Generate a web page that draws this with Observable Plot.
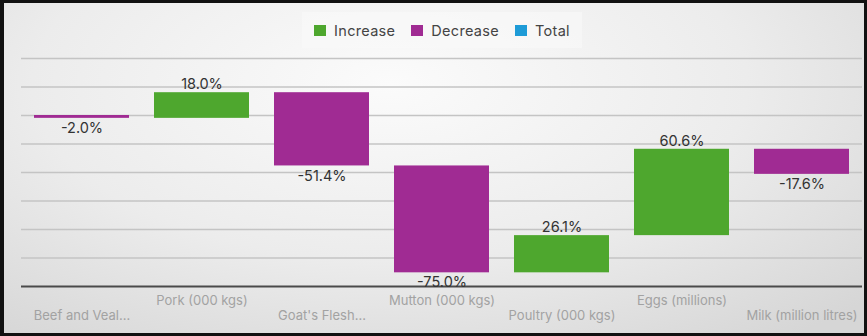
<!DOCTYPE html>
<html>
<head>
<meta charset="utf-8">
<script src="https://cdn.jsdelivr.net/npm/d3@7"></script>
<script src="https://cdn.jsdelivr.net/npm/@observablehq/plot@0.6"></script>
<style>
  html, body { margin: 0; padding: 0; }
  #wrap {
    position: relative; width: 867px; height: 336px; overflow: hidden;
    background: radial-gradient(ellipse 75% 95% at 45% 25%, #fbfbfb 0%, #ececec 55%, #d6d6d6 100%);
    font-family: Inter, "Open Sans", sans-serif;
  }
  #chart { position: absolute; left: 0; top: 0; }
  #border {
    position: absolute; left: 0; top: 0; width: 867px; height: 336px; box-sizing: border-box;
    border: 3px solid #111; border-left-width: 4px; pointer-events: none;
  }
  #legend {
    position: absolute; left: 302px; top: 12px; width: 280px; height: 36px;
    background: rgba(250,250,250,0.55);
    display: flex; align-items: center; justify-content: center; gap: 16px;
    font-size: 14.5px; color: #444; letter-spacing: 0.3px;
  }
  #legend .item { display: flex; align-items: center; gap: 8px; }
  #legend .sw { width: 12px; height: 11px; display: inline-block; }
</style>
</head>
<body>
<div id="wrap">
  <div id="chart"></div>
  <div id="legend"></div>
  <div id="border"></div>
</div>
<script>
const categories = ["Beef and Veal...", "Pork (000 kgs)", "Goat's Flesh...", "Mutton (000 kgs)", "Poultry (000 kgs)", "Eggs (millions)", "Milk (million litres)"];
const changes = [-2.0, 18.0, -51.4, -75.0, 26.1, 60.6, -17.6];
const legendNames = ["Increase", "Decrease", "Total"];
const legendColors = ["#4ea72e", "#a02b93", "#1e9bd7"];
const gridTicks = [-100, -80, -60, -40, -20, 0, 20, 40];

let run = 0;
const data = categories.map((c, i) => {
  const start = run;
  run += changes[i];
  return { cat: c, i, value: changes[i], start, end: run, color: changes[i] >= 0 ? legendColors[0] : legendColors[1] };
});

const chart = Plot.plot({
  width: 867,
  height: 336,
  marginLeft: 21,
  marginRight: 5,
  marginTop: 58,
  marginBottom: 50,
  style: { background: "transparent", fontFamily: "Inter, 'Open Sans', sans-serif", overflow: "visible" },
  x: { type: "band", domain: categories, paddingInner: 0.21, paddingOuter: 0.1, axis: null },
  y: { domain: [-120, 40], axis: null },
  color: { type: "identity" },
  marks: [
    Plot.ruleY(gridTicks, { stroke: "#c4c4c4", strokeWidth: 1.5 }),
    Plot.ruleY([-120], { stroke: "#4a4a4a", strokeWidth: 2 }),
    Plot.barY(data, { x: "cat", y1: "start", y2: "end", fill: "color" }),
    Plot.text(data.filter(d => d.value >= 0), {
      x: "cat", y: "end", text: d => d.value.toFixed(1) + "%", dy: -8,
      fontSize: 14.5, fill: "#333"
    }),
    Plot.text(data.filter(d => d.value < 0), {
      x: "cat", y: "end", text: d => d.value.toFixed(1) + "%", dy: 10,
      fontSize: 14.5, fill: "#333"
    }),
    Plot.text(data.filter(d => d.i % 2 === 1), {
      x: "cat", frameAnchor: "bottom", text: "cat", dy: 18, fontSize: 13, fill: "#a2a2a2"
    }),
    Plot.text(data.filter(d => d.i % 2 === 0), {
      x: "cat", frameAnchor: "bottom", text: "cat", dy: 33, fontSize: 13, fill: "#a2a2a2"
    })
  ]
});
document.getElementById("chart").appendChild(chart);

const legend = document.getElementById("legend");
legendNames.forEach((n, k) => {
  const it = document.createElement("div");
  it.className = "item";
  it.innerHTML = `<span class="sw" style="background:${legendColors[k]}"></span><span>${n}</span>`;
  legend.appendChild(it);
});
</script>
</body>
</html>
